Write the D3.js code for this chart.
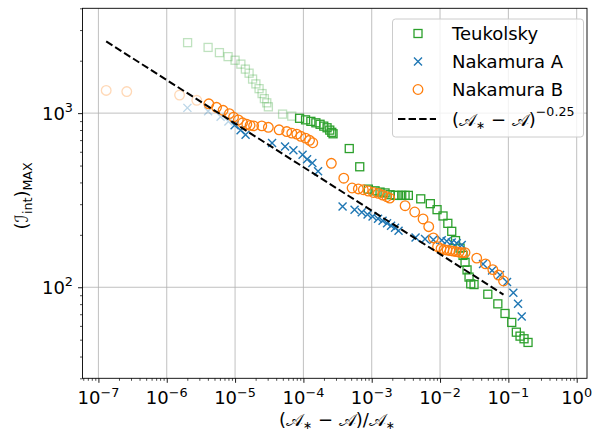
<!DOCTYPE html>
<html>
<head>
<meta charset="utf-8">
<script src="https://cdn.jsdelivr.net/npm/d3@7"></script>
<style>
  body { margin: 0; background: #fff; }
  text { font-family: "DejaVu Sans", sans-serif; fill: #000; }
</style>
</head>
<body>
<svg id="chart" width="594" height="437"></svg>
<script>
// Peak integrated value versus distance from the critical amplitude.
const teukolsky = [
  [2.02e-6, 2540], [4.03e-6, 2384], [5.9e-6, 2226], [7.9e-6, 2111], [1.0e-5, 2013],
  [1.216e-5, 1912], [1.416e-5, 1790], [1.604e-5, 1696], [1.805e-5, 1569], [2.017e-5, 1472],
  [2.246e-5, 1382], [2.485e-5, 1295], [2.685e-5, 1211], [2.912e-5, 1146], [3.073e-5, 1087],
  [4.96e-5, 987], [6.76e-5, 961], [8.79e-5, 934], [1.076e-4, 915], [1.287e-4, 897],
  [1.523e-4, 880], [1.754e-4, 863], [1.987e-4, 842], [2.22e-4, 824], [2.432e-4, 799],
  [2.602e-4, 776], [2.718e-4, 761], [4.69e-4, 626], [6.68e-4, 492], [8.93e-4, 366],
  [1.119e-3, 358], [1.324e-3, 352], [1.568e-3, 348], [1.855e-3, 340], [2.195e-3, 337],
  [2.453e-3, 337], [2.752e-3, 337], [3.075e-3, 337], [3.436e-3, 337], [5.22e-3, 322],
  [7.21e-3, 302], [9.04e-3, 279], [1.106e-2, 256.7], [1.3e-2, 232.8], [1.483e-2, 209.5],
  [1.685e-2, 185.3], [1.963e-2, 167.8], [2.171e-2, 152.4], [2.322e-2, 139.1], [2.484e-2, 125.8],
  [2.657e-2, 114.4], [2.813e-2, 104.6], [3.144e-2, 103.6], [5.0e-2, 91.2], [7.01e-2, 80.3],
  [8.93e-2, 70.7], [0.112, 62.8], [0.1308, 55.2], [0.1481, 52.4], [0.1695, 50.6], [0.194, 48.2]
];

const nakamuraA = [
  [2.006e-6, 1072], [4.03e-6, 1024], [6.14e-6, 952], [7.99e-6, 895], [9.84e-6, 851],
  [1.204e-5, 797], [1.425e-5, 751], [3.48e-5, 673], [5.39e-5, 643], [7.14e-5, 612],
  [9.73e-5, 577], [1.132e-4, 543], [1.353e-4, 517], [1.64e-4, 464], [3.745e-4, 291],
  [5.61e-4, 279], [7.15e-4, 270], [8.69e-4, 262], [1.029e-3, 255], [1.238e-3, 247.7],
  [1.441e-3, 241.3], [1.677e-3, 233.4], [1.919e-3, 225.9], [2.195e-3, 220], [2.47e-3, 211.4],
  [4.38e-3, 193.2], [6.03e-3, 189.5], [7.98e-3, 187.7], [1.059e-2, 186], [1.253e-2, 183.5],
  [1.483e-2, 180.9], [1.755e-2, 178.8], [2.077e-2, 174.6], [4.26e-2, 135.8], [5.77e-2, 124.7],
  [7.55e-2, 117.5], [9.56e-2, 107.1], [0.1182, 92.9], [0.1385, 80.3], [0.1568, 67.9]
];

const nakamuraB = [
  [1.3e-7, 1350], [2.6e-7, 1330], [1.54e-6, 1270], [2.75e-6, 1185], [4.13e-6, 1131],
  [5.36e-6, 1080], [6.68e-6, 1038], [8.26e-6, 993], [9.5e-6, 948], [1.118e-5, 915],
  [1.288e-5, 880], [1.484e-5, 863], [1.66e-5, 851], [1.867e-5, 845], [2.46e-5, 845],
  [3.07e-5, 829], [4.41e-5, 802], [5.71e-5, 784], [6.76e-5, 768], [8.0e-5, 758],
  [9.18e-5, 736], [1.076e-4, 719], [1.231e-4, 698], [1.372e-4, 676], [2.567e-4, 515],
  [3.9e-4, 423], [5.16e-4, 371.5], [6.37e-4, 367], [7.54e-4, 363], [8.93e-4, 357],
  [1.057e-3, 350], [1.25e-3, 346], [1.45e-3, 338], [1.66e-3, 331], [1.837e-3, 325],
  [3.08e-3, 294], [4.26e-3, 270.5], [5.64e-3, 246.7], [6.83e-3, 222.8], [7.98e-3, 192],
  [9.19e-3, 171], [1.034e-2, 166.7], [1.144e-2, 164.5], [1.266e-2, 163.4], [1.4e-2, 162.3],
  [1.55e-2, 161.3], [1.714e-2, 160.2], [1.897e-2, 159.2], [2.1e-2, 158.1], [2.32e-2, 158.1],
  [3.44e-2, 147], [4.63e-2, 136.2], [5.92e-2, 126.3], [7.18e-2, 117.5], [8.49e-2, 108.6]
];

// leading points of each run that are drawn light
const teukolskyLight = 17;
const nakamuraALight = 4;
const nakamuraBLight = 4;

// power-law guide: C * x^exponent
const guideCoefficient = 49;
const guideExponent = -0.25;

const xTickExponents = [-7, -6, -5, -4, -3, -2, -1, 0];
const yTickExponents = [2, 3];

const legendLabels = ["Teukolsky", "Nakamura A", "Nakamura B"];

const svg = d3.select("#chart");
const plotLeft = 82.5, plotRight = 587, plotTop = 8.3, plotBottom = 378.3;

const x = d3.scaleLog().domain([5.85e-8, 1.415]).range([plotLeft, plotRight]);
const y = d3.scaleLog().domain([30, 4000]).range([plotBottom, plotTop]);

const colors = { teukolsky: "#2ca02c", nakA: "#1f77b4", nakB: "#ff7f0e" };
const lightOpacity = 0.3;

// grid
const grid = svg.append("g").attr("stroke", "#b0b0b0").attr("stroke-width", 0.8);
xTickExponents.forEach(e => {
  const px = x(Math.pow(10, e));
  grid.append("line").attr("x1", px).attr("x2", px).attr("y1", plotTop).attr("y2", plotBottom);
});
yTickExponents.forEach(e => {
  const py = y(Math.pow(10, e));
  grid.append("line").attr("x1", plotLeft).attr("x2", plotRight).attr("y1", py).attr("y2", py);
});

// tick marks: minor at 1..9 x 10^k, majors lengthened
function logTickValues(scale) {
  const [a, b] = scale.domain();
  const out = [];
  for (let e = Math.floor(Math.log10(a)); e <= Math.ceil(Math.log10(b)); e++) {
    for (let m = 1; m < 10; m++) {
      const v = m * Math.pow(10, e);
      if (v >= a && v <= b) out.push(v);
    }
  }
  return out;
}
const isDecade = d => Math.abs(Math.log10(d) - Math.round(Math.log10(d))) < 1e-9;

const gx = svg.append("g").attr("transform", `translate(0,${plotBottom})`)
  .call(d3.axisBottom(x).tickValues(logTickValues(x)).tickFormat("").tickSize(2.5).tickSizeOuter(0));
const gy = svg.append("g").attr("transform", `translate(${plotLeft},0)`)
  .call(d3.axisLeft(y).tickValues(logTickValues(y)).tickFormat("").tickSize(2.5).tickSizeOuter(0));
[gx, gy].forEach(g => {
  g.select(".domain").remove();
  g.selectAll("line").attr("stroke", "#000").attr("stroke-width", 0.7);
});
gx.selectAll(".tick").filter(isDecade).select("line").attr("y2", 4.5).attr("stroke-width", 0.9);
gy.selectAll(".tick").filter(isDecade).select("line").attr("x2", -4.5).attr("stroke-width", 0.9);

// tick labels
xTickExponents.forEach(e => {
  const t = svg.append("text").attr("x", x(Math.pow(10, e))).attr("y", 404)
    .attr("text-anchor", "middle").attr("font-size", 18);
  t.append("tspan").text("10");
  t.append("tspan").attr("font-size", 12.8).attr("dy", -7.5)
    .text(e < 0 ? "\u2212" + (-e) : String(e));
});
yTickExponents.forEach(e => {
  const t = svg.append("text").attr("x", 73).attr("y", y(Math.pow(10, e)) + 6.5)
    .attr("text-anchor", "end").attr("font-size", 18);
  t.append("tspan").text("10");
  t.append("tspan").attr("font-size", 12.8).attr("dy", -7.5).text(String(e));
});

// axis labels
const xl = svg.append("text").attr("x", 337).attr("y", 426)
  .attr("text-anchor", "middle").attr("font-size", 18);
xl.append("tspan").text("(\uD835\uDC9C");
xl.append("tspan").attr("font-size", 11).attr("dy", 3).text("\u2217");
xl.append("tspan").attr("dy", -3).text(" \u2212 \uD835\uDC9C)/\uD835\uDC9C");
xl.append("tspan").attr("font-size", 11).attr("dy", 3).text("\u2217");

const yl = svg.append("text").attr("transform", "translate(28,196) rotate(-90)")
  .attr("text-anchor", "middle").attr("font-size", 18);
yl.append("tspan").text("(\u2110");
yl.append("tspan").attr("font-size", 12.6).attr("dy", 4).text("int");
yl.append("tspan").attr("dy", -4).text(")");
yl.append("tspan").attr("font-size", 12.6).attr("dy", 4).text("MAX");

// markers
const plot = svg.append("g");
function squares(data, lightCount, color) {
  plot.append("g").selectAll("rect").data(data).join("rect")
    .attr("x", d => x(d[0]) - 4).attr("y", d => y(d[1]) - 4)
    .attr("width", 8).attr("height", 8)
    .attr("fill", "none").attr("stroke", color).attr("stroke-width", 1.3)
    .attr("opacity", (d, i) => i < lightCount ? lightOpacity : 1);
}
function crosses(data, lightCount, color) {
  plot.append("g").selectAll("path").data(data).join("path")
    .attr("d", d => {
      const cx = x(d[0]), cy = y(d[1]), r = 4;
      return `M${cx - r},${cy - r}L${cx + r},${cy + r}M${cx - r},${cy + r}L${cx + r},${cy - r}`;
    })
    .attr("fill", "none").attr("stroke", color).attr("stroke-width", 1.4)
    .attr("opacity", (d, i) => i < lightCount ? lightOpacity : 1);
}
function circles(data, lightCount, color) {
  plot.append("g").selectAll("circle").data(data).join("circle")
    .attr("cx", d => x(d[0])).attr("cy", d => y(d[1])).attr("r", 4.8)
    .attr("fill", "none").attr("stroke", color).attr("stroke-width", 1.3)
    .attr("opacity", (d, i) => i < lightCount ? lightOpacity : 1);
}
squares(teukolsky, teukolskyLight, colors.teukolsky);
crosses(nakamuraA, nakamuraALight, colors.nakA);
circles(nakamuraB, nakamuraBLight, colors.nakB);

// guide line spanning the Nakamura B range
const guideX = d3.extent(nakamuraB, d => d[0]);
const guide = guideX.map(v => [v, guideCoefficient * Math.pow(v, guideExponent)]);
plot.append("path").datum(guide)
  .attr("d", d3.line().x(d => x(d[0])).y(d => y(d[1])))
  .attr("fill", "none").attr("stroke", "#000").attr("stroke-width", 2)
  .attr("stroke-dasharray", "7.4,3.2");

// frame
svg.append("rect").attr("x", plotLeft).attr("y", plotTop)
  .attr("width", plotRight - plotLeft).attr("height", plotBottom - plotTop)
  .attr("fill", "none").attr("stroke", "#000").attr("stroke-width", 0.9);

// legend
const lg = svg.append("g");
lg.append("rect").attr("x", 392.5).attr("y", 19).attr("width", 191).attr("height", 118)
  .attr("rx", 3).attr("fill", "#fff").attr("fill-opacity", 0.8)
  .attr("stroke", "#cccccc").attr("stroke-width", 1);
const rowY = [33.5, 61.5, 89.5, 119];
const mx = 418;
lg.append("rect").attr("x", mx - 4).attr("y", rowY[0] - 4).attr("width", 8).attr("height", 8)
  .attr("fill", "none").attr("stroke", colors.teukolsky).attr("stroke-width", 1.3);
lg.append("path").attr("d", `M${mx - 4},${rowY[1] - 4}L${mx + 4},${rowY[1] + 4}M${mx - 4},${rowY[1] + 4}L${mx + 4},${rowY[1] - 4}`)
  .attr("stroke", colors.nakA).attr("stroke-width", 1.4);
lg.append("circle").attr("cx", mx).attr("cy", rowY[2]).attr("r", 4.8)
  .attr("fill", "none").attr("stroke", colors.nakB).attr("stroke-width", 1.3);
lg.append("line").attr("x1", 398).attr("x2", 436).attr("y1", rowY[3]).attr("y2", rowY[3])
  .attr("stroke", "#000").attr("stroke-width", 2).attr("stroke-dasharray", "7.4,3.2");
legendLabels.forEach((s, i) => {
  lg.append("text").attr("x", 452).attr("y", rowY[i] + 6.5).attr("font-size", 18).text(s);
});
const gl = lg.append("text").attr("x", 452).attr("y", rowY[3] + 6.5).attr("font-size", 18);
gl.append("tspan").text("(\uD835\uDC9C");
gl.append("tspan").attr("font-size", 11).attr("dy", 3).text("\u2217");
gl.append("tspan").attr("dy", -3).text(" \u2212 \uD835\uDC9C)");
gl.append("tspan").attr("font-size", 12.6).attr("dy", -10).text("\u22120.25");
</script>
</body>
</html>
